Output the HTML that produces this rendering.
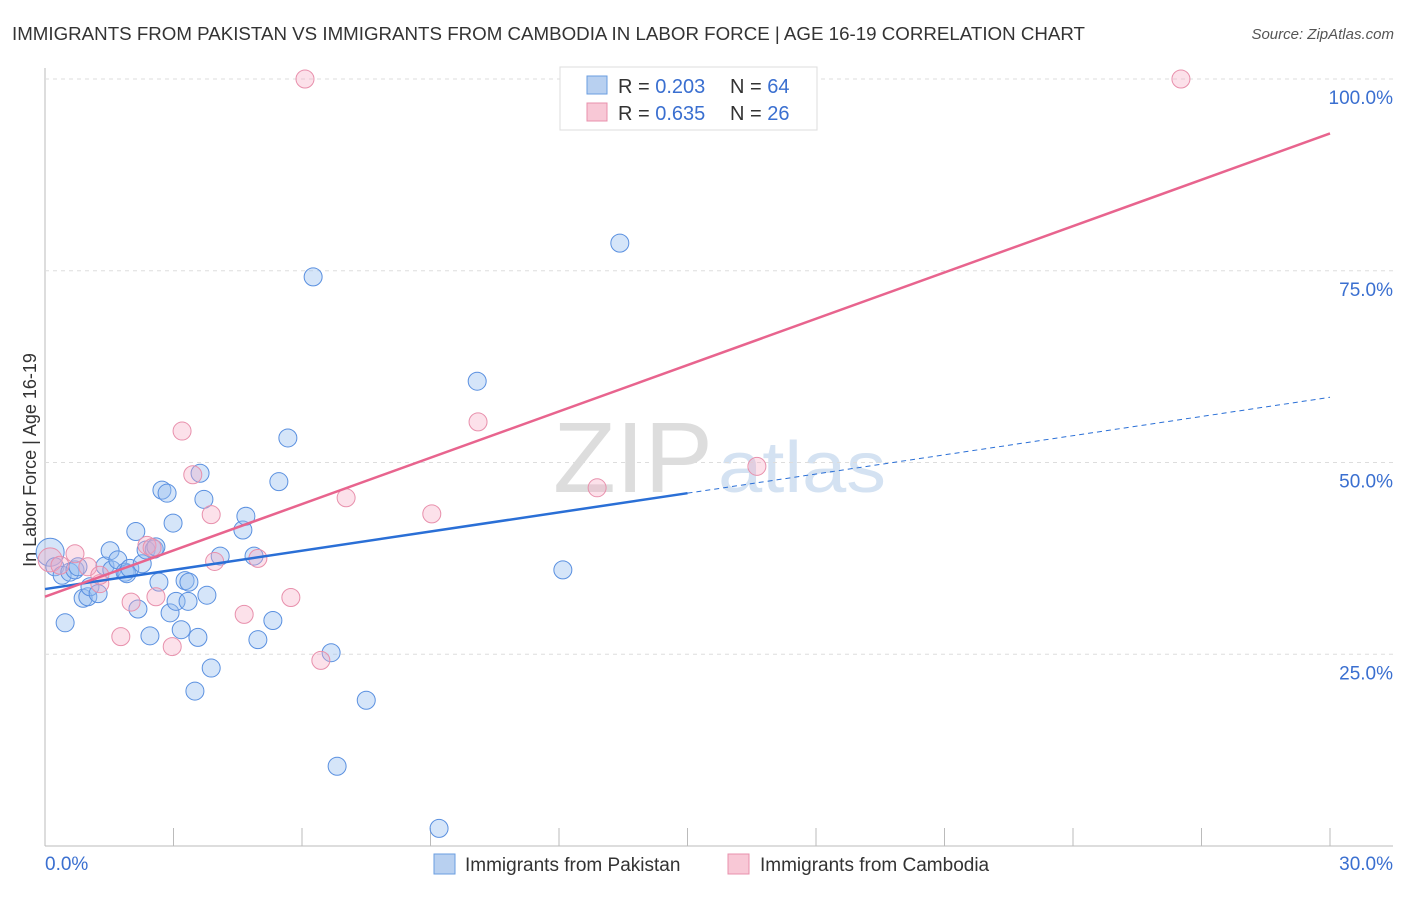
<!DOCTYPE html>
<html><head><meta charset="utf-8"><style>
body{margin:0;background:#fff;font-family:"Liberation Sans",sans-serif;}
svg text{font-family:"Liberation Sans",sans-serif;}
</style></head><body>
<svg id="c" width="1406" height="892">
<text x="12" y="40" font-size="18" fill="#333" textLength="1073" lengthAdjust="spacingAndGlyphs">IMMIGRANTS FROM PAKISTAN VS IMMIGRANTS FROM CAMBODIA IN LABOR FORCE | AGE 16-19 CORRELATION CHART</text>
<text x="1394" y="39" font-size="15" fill="#555" font-style="italic" text-anchor="end">Source: ZipAtlas.com</text>
<text x="36" y="460" font-size="18" fill="#333" transform="rotate(-90 36 460)" text-anchor="middle">In Labor Force | Age 16-19</text>
<text x="553" y="492" font-size="100" fill="#ddd" font-family="Liberation Serif" textLength="160" lengthAdjust="spacingAndGlyphs">ZIP</text>
<text x="718" y="492" font-size="72" fill="#d4e2f2" textLength="168" lengthAdjust="spacingAndGlyphs">atlas</text>
<g id="grid"></g><g id="pts"></g><g id="lines"></g>
<g>
<rect x="560" y="67" width="257" height="63" fill="#fff" stroke="#ddd"/>
<rect x="587" y="76" width="20" height="18" fill="#b8d0f0" stroke="#6a9ee0"/>
<rect x="587" y="103" width="20" height="18" fill="#f8c8d6" stroke="#e890ac"/>
<text x="618" y="93" font-size="20" fill="#333">R = <tspan fill="#3a6fd0">0.203</tspan></text>
<text x="730" y="93" font-size="20" fill="#333">N = <tspan fill="#3a6fd0">64</tspan></text>
<text x="618" y="120" font-size="20" fill="#333">R = <tspan fill="#3a6fd0">0.635</tspan></text>
<text x="730" y="120" font-size="20" fill="#333">N = <tspan fill="#3a6fd0">26</tspan></text>
</g>
<g>
<rect x="434" y="854" width="21" height="20" fill="#b8d0f0" stroke="#6a9ee0"/>
<text x="465" y="871" font-size="19" fill="#333">Immigrants from Pakistan</text>
<rect x="728" y="854" width="21" height="20" fill="#f8c8d6" stroke="#e890ac"/>
<text x="760" y="871" font-size="19" fill="#333">Immigrants from Cambodia</text>
</g>
</svg>
<script>
const yTicks=[25,50,75,100];
const xTickLabels=["0.0%","30.0%"];
const pakX=[0.12,0.23,0.40,0.58,0.70,0.77,0.47,0.89,1.00,1.05,1.24,1.40,1.52,1.56,1.70,1.87,1.91,1.98,2.12,2.17,2.27,2.36,2.45,2.55,2.59,2.66,2.73,2.85,2.99,2.92,3.06,3.18,3.27,3.36,3.34,3.50,3.57,3.62,3.71,3.78,3.88,4.09,4.62,4.69,4.88,4.97,5.32,5.46,5.67,6.26,6.68,6.82,7.50,9.20,10.09,12.09,13.42];
const pakY=[38.3,36.4,35.3,35.7,36.0,36.4,29.1,32.3,32.5,33.8,32.9,36.5,38.5,36.0,37.3,35.7,35.5,36.2,41.0,30.9,36.8,38.6,27.4,38.7,39.0,34.4,46.4,46.0,42.1,30.4,31.9,28.2,34.6,34.4,31.9,20.2,27.2,48.6,45.2,32.7,23.2,37.8,41.2,43.0,37.8,26.9,29.4,47.5,53.2,74.2,25.2,10.4,19.0,2.3,60.6,36.0,78.6];
const camX=[0.12,0.35,0.70,1.00,1.28,1.28,1.77,2.01,2.38,2.50,2.59,2.97,3.20,3.45,3.88,3.96,4.65,4.97,5.74,6.07,6.44,7.03,9.03,10.11,12.89,16.62,26.52];
const camY=[37.3,36.6,38.1,36.4,34.2,35.3,27.3,31.8,39.2,38.9,32.5,26.0,54.1,48.4,43.2,37.1,30.2,37.5,32.4,100,24.2,45.4,43.3,55.3,46.7,49.5,100];
const pakLine=[33.5,58.5], camLine=[32.5,92.9];
const xs=v=>45+v/30*1285, ys=v=>846-v*7.67;
const NS="http://www.w3.org/2000/svg";
function mk(t,a,p){const e=document.createElementNS(NS,t);for(const k in a)e.setAttribute(k,a[k]);p.appendChild(e);return e;}
const g=document.getElementById('grid');
mk('line',{x1:45,y1:68,x2:45,y2:846,stroke:'#bbb'},g);
mk('line',{x1:45,y1:846,x2:1393,y2:846,stroke:'#bbb'},g);
yTicks.forEach(t=>{
 const l=mk('line',{x1:45,y1:ys(t),x2:1393,y2:ys(t),stroke:'#ddd','stroke-dasharray':'4 4'},g);
 
 
 const tx=mk('text',{x:1393,y:ys(t)+25,'font-size':19,fill:'#3a6fd0','text-anchor':'end'},g);tx.textContent=t.toFixed(1)+'%';
 
 
});
for(let i=0;i<=10;i++){const x=xs(i*3);const l=mk('line',{x1:x,y1:828,x2:x,y2:846,stroke:'#bbb'},g);
 
 }
[[0,'start',45],[1,'end',1393]].forEach(([i,a,x])=>{const t=mk('text',{x:x,y:870,'font-size':19,fill:'#3a6fd0','text-anchor':a},g);t.textContent=xTickLabels[i];
 
 });
const p=document.getElementById('pts');
pakX.forEach((v,i)=>{const c=mk('circle',{cx:xs(v),cy:ys(pakY[i]),r:i==0?14:9,fill:'rgba(150,190,240,0.4)',stroke:'#5a90e0','stroke-width':1},p);
 
 });
camX.forEach((v,i)=>{const c=mk('circle',{cx:xs(v),cy:ys(camY[i]),r:i==0?12:9,fill:'rgba(245,170,195,0.35)',stroke:'#e890ac','stroke-width':1},p);
 
 });
const L=document.getElementById('lines');
const py=v=>pakLine[0]+(pakLine[1]-pakLine[0])*v/30;
let a=mk('line',{x1:xs(0),y1:ys(py(0)),x2:xs(15),y2:ys(py(15)),stroke:'#2a6fd6','stroke-width':2.5},L);


a=mk('line',{x1:xs(15),y1:ys(py(15)),x2:xs(30),y2:ys(py(30)),stroke:'#2a6fd6','stroke-width':1,'stroke-dasharray':'5 4'},L);


a=mk('line',{x1:xs(0),y1:ys(camLine[0]),x2:xs(30),y2:ys(camLine[1]),stroke:'#e8648e','stroke-width':2.5},L);


</script>
</body></html>
